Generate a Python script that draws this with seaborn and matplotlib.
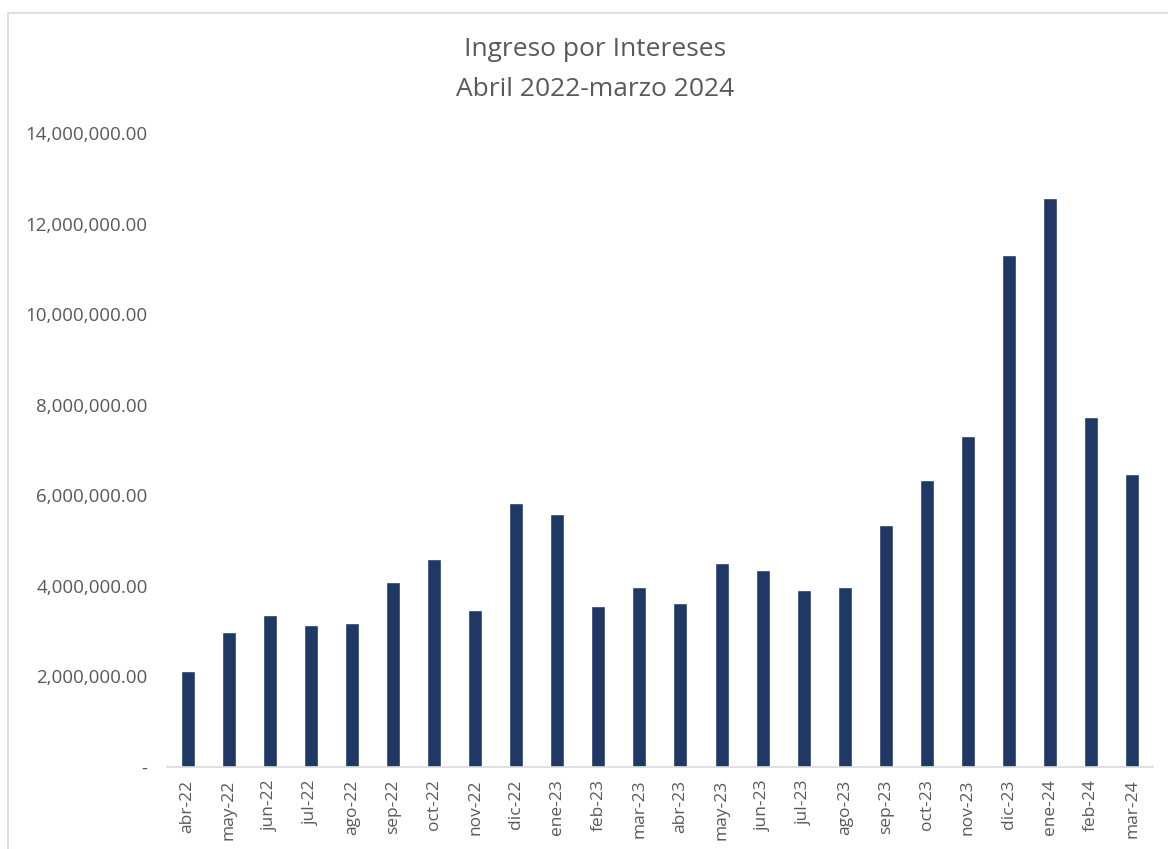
import matplotlib.pyplot as plt
import matplotlib.patches as patches
import seaborn as sns
import pandas as pd
from matplotlib.ticker import FuncFormatter

# Datos: ingreso por intereses mensual
meses = ["abr-22", "may-22", "jun-22", "jul-22", "ago-22", "sep-22", "oct-22", "nov-22",
         "dic-22", "ene-23", "feb-23", "mar-23", "abr-23", "may-23", "jun-23", "jul-23",
         "ago-23", "sep-23", "oct-23", "nov-23", "dic-23", "ene-24", "feb-24", "mar-24"]
ingresos = [2120000, 2980000, 3360000, 3130000, 3180000, 4080000, 4590000, 3470000,
            5830000, 5590000, 3550000, 3970000, 3620000, 4500000, 4350000, 3910000,
            3970000, 5340000, 6330000, 7310000, 11300000, 12560000, 7730000, 6470000]
y_ticks = [0, 2000000, 4000000, 6000000, 8000000, 10000000, 12000000, 14000000]

df = pd.DataFrame({"mes": meses, "ingreso": ingresos})

sns.set_style("white")
plt.rcParams["font.family"] = ["Open Sans", "DejaVu Sans"]
gris = "#595959"

fig = plt.figure(figsize=(11.68, 8.49), dpi=100)
ax = fig.add_axes([0.143, 0.0966, 0.844, 0.7467])

sns.barplot(data=df, x="mes", y="ingreso", color="#203864", width=0.34,
            saturation=1, ax=ax)

ax.set_ylim(0, 14000000)
ax.set_xlim(-0.5, len(meses) - 0.5)
ax.set_yticks(y_ticks)
ax.yaxis.set_major_formatter(FuncFormatter(lambda v, p: "-" if v == 0 else f"{v:,.2f}"))
ax.tick_params(axis="y", length=0, pad=14, labelsize=13.5, labelcolor=gris)
ax.tick_params(axis="x", length=0, pad=9, labelsize=12.5, labelcolor=gris, rotation=90)
ax.set_xlabel("")
ax.set_ylabel("")
for s in ["top", "right", "left"]:
    ax.spines[s].set_visible(False)
ax.spines["bottom"].set_color("#d9d9d9")
ax.spines["bottom"].set_linewidth(1.2)

fig.text(595 / 1168, 1 - 50 / 849, "Ingreso por Intereses", ha="center", va="center",
         fontsize=19, color=gris)
fig.text(595 / 1168, 1 - 90 / 849, "Abril 2022-marzo 2024", ha="center", va="center",
         fontsize=19, color=gris)

# marco del gráfico
fig.patches.append(patches.Rectangle((8 / 1168, -0.01), 1.02, 1 - 13 / 849 + 0.01,
                                     transform=fig.transFigure, fill=False,
                                     edgecolor="#d9d9d9", linewidth=1.2))

fig.savefig("out.png", dpi=100)
